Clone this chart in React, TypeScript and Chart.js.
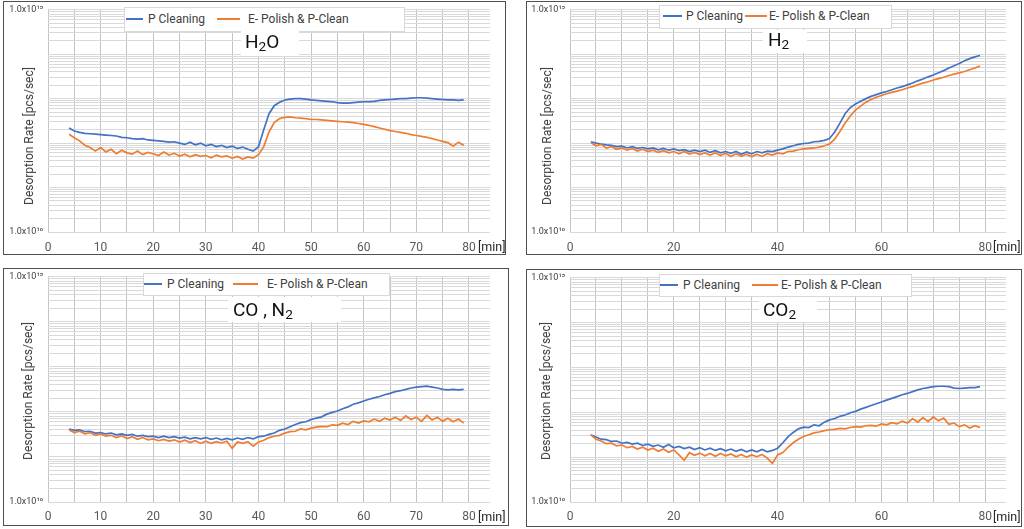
import React, { useEffect, useRef } from 'react';
import { Chart, registerables } from 'chart.js';

Chart.register(...registerables);

const FONT = 'Roboto, "DejaVu Sans", Arial, sans-serif';
const BLUE = '#4472C4';
const ORANGE = '#ED7D31';

// ---------- data ----------
const seriesNames = ['P Cleaning', 'E- Polish & P-Clean'];

// elapsed time [min]
const minutes = [
  4, 5, 6, 7, 8, 9, 10, 11, 12, 13,
  14, 15, 16, 17, 18, 19, 20, 21, 22, 23,
  24, 25, 26, 27, 28, 29, 30, 31, 32, 33,
  34, 35, 36, 37, 38, 39, 40, 41, 42, 43,
  44, 45, 46, 47, 48, 49, 50, 51, 52, 53,
  54, 55, 56, 57, 58, 59, 60, 61, 62, 63,
  64, 65, 66, 67, 68, 69, 70, 71, 72, 73,
  74, 75, 76, 77, 78, 79,
];

// desorption rate, stored as log10 [pcs/sec]
const h2oPCleaningLog = [
  12.34, 12.27, 12.24, 12.22, 12.21, 12.20, 12.19, 12.18, 12.17, 12.16,
  12.13, 12.12, 12.10, 12.09, 12.10, 12.07, 12.06, 12.05, 12.04, 12.02,
  12.03, 12.00, 11.97, 12.02, 11.96, 12.00, 11.94, 11.97, 11.92, 11.95,
  11.90, 11.93, 11.88, 11.91, 11.86, 11.82, 11.92, 12.30, 12.66, 12.84,
  12.92, 12.97, 12.99, 13.00, 13.00, 12.99, 12.97, 12.96, 12.95, 12.94,
  12.93, 12.91, 12.90, 12.90, 12.91, 12.92, 12.93, 12.93, 12.94, 12.96,
  12.97, 12.98, 12.99, 13.00, 13.00, 13.01, 13.02, 13.02, 13.01, 13.00,
  12.99, 12.98, 12.97, 12.97, 12.96, 12.97,
];
const h2oEPolishLog = [
  12.20, 12.12, 12.05, 11.95, 11.90, 11.82, 11.90, 11.80, 11.86, 11.76,
  11.84, 11.78, 11.75, 11.82, 11.74, 11.79, 11.76, 11.72, 11.80, 11.73,
  11.77, 11.71, 11.75, 11.69, 11.74, 11.70, 11.72, 11.67, 11.73, 11.69,
  11.71, 11.66, 11.70, 11.64, 11.69, 11.66, 11.74, 11.92, 12.25, 12.46,
  12.55, 12.58, 12.59, 12.57, 12.56, 12.55, 12.53, 12.53, 12.52, 12.51,
  12.50, 12.49, 12.48, 12.47, 12.46, 12.44, 12.42, 12.40, 12.37, 12.34,
  12.31, 12.28, 12.26, 12.24, 12.22, 12.19, 12.17, 12.15, 12.13, 12.10,
  12.07, 12.04, 12.01, 11.93, 12.02, 11.95,
];
const h2PCleaningLog = [
  12.03, 12.00, 11.98, 11.96, 11.95, 11.92, 11.93, 11.89, 11.92, 11.88,
  11.90, 11.87, 11.89, 11.85, 11.88, 11.84, 11.87, 11.83, 11.85, 11.81,
  11.84, 11.81, 11.84, 11.79, 11.83, 11.78, 11.81, 11.77, 11.81, 11.75,
  11.80, 11.76, 11.81, 11.78, 11.82, 11.81, 11.84, 11.87, 11.91, 11.94,
  11.97, 11.99, 12.00, 12.03, 12.04, 12.06, 12.10, 12.25, 12.45, 12.66,
  12.80, 12.88, 12.94, 13.00, 13.05, 13.09, 13.13, 13.16, 13.20, 13.24,
  13.27, 13.31, 13.35, 13.40, 13.44, 13.49, 13.53, 13.58, 13.63, 13.69,
  13.74, 13.79, 13.85, 13.90, 13.94, 13.97,
];
const h2EPolishLog = [
  12.01, 11.94, 11.97, 11.89, 11.92, 11.86, 11.89, 11.84, 11.88, 11.82,
  11.86, 11.81, 11.84, 11.79, 11.83, 11.78, 11.81, 11.76, 11.81, 11.75,
  11.79, 11.74, 11.78, 11.73, 11.78, 11.72, 11.77, 11.70, 11.76, 11.70,
  11.75, 11.69, 11.75, 11.70, 11.76, 11.73, 11.78, 11.76, 11.81, 11.82,
  11.85, 11.87, 11.88, 11.89, 11.91, 11.94, 11.98, 12.09, 12.26, 12.45,
  12.61, 12.74, 12.83, 12.92, 12.98, 13.03, 13.07, 13.11, 13.14, 13.17,
  13.20, 13.24, 13.27, 13.31, 13.35, 13.38, 13.42, 13.45, 13.48, 13.52,
  13.55, 13.58, 13.61, 13.65, 13.69, 13.73,
];
const coN2PCleaningLog = [
  11.62, 11.59, 11.60, 11.56, 11.57, 11.53, 11.54, 11.51, 11.53, 11.49,
  11.51, 11.48, 11.50, 11.46, 11.48, 11.45, 11.46, 11.43, 11.46, 11.43,
  11.45, 11.42, 11.44, 11.40, 11.43, 11.40, 11.43, 11.39, 11.42, 11.38,
  11.41, 11.38, 11.42, 11.39, 11.43, 11.40, 11.45, 11.46, 11.50, 11.53,
  11.59, 11.62, 11.67, 11.72, 11.76, 11.78, 11.83, 11.86, 11.89, 11.95,
  11.99, 12.02, 12.07, 12.11, 12.17, 12.20, 12.24, 12.28, 12.31, 12.34,
  12.38, 12.41, 12.45, 12.47, 12.50, 12.53, 12.55, 12.56, 12.57, 12.55,
  12.53, 12.50, 12.49, 12.50, 12.49, 12.50,
];
const coN2EPolishLog = [
  11.60, 11.54, 11.57, 11.51, 11.54, 11.48, 11.51, 11.46, 11.48, 11.43,
  11.47, 11.41, 11.45, 11.39, 11.43, 11.38, 11.40, 11.36, 11.39, 11.35,
  11.38, 11.33, 11.37, 11.32, 11.36, 11.30, 11.35, 11.30, 11.34, 11.31,
  11.35, 11.19, 11.33, 11.30, 11.34, 11.24, 11.33, 11.37, 11.43, 11.46,
  11.48, 11.53, 11.56, 11.57, 11.62, 11.60, 11.64, 11.66, 11.68, 11.67,
  11.71, 11.70, 11.75, 11.72, 11.79, 11.75, 11.80, 11.78, 11.84, 11.79,
  11.86, 11.82, 11.88, 11.81, 11.91, 11.83, 11.88, 11.79, 11.92, 11.82,
  11.88, 11.79, 11.86, 11.78, 11.84, 11.75,
];
const co2PCleaningLog = [
  11.50, 11.45, 11.40, 11.39, 11.35, 11.36, 11.31, 11.33, 11.29, 11.31,
  11.26, 11.29, 11.24, 11.27, 11.22, 11.28, 11.21, 11.24, 11.19, 11.22,
  11.17, 11.21, 11.16, 11.20, 11.15, 11.19, 11.14, 11.18, 11.13, 11.17,
  11.12, 11.16, 11.12, 11.17, 11.12, 11.15, 11.20, 11.32, 11.45, 11.55,
  11.63, 11.67, 11.66, 11.72, 11.70, 11.78, 11.83, 11.86, 11.91, 11.94,
  11.99, 12.02, 12.07, 12.11, 12.15, 12.19, 12.23, 12.27, 12.31, 12.35,
  12.39, 12.42, 12.46, 12.50, 12.53, 12.55, 12.57, 12.58, 12.58, 12.57,
  12.54, 12.53, 12.54, 12.55, 12.55, 12.57,
];
const co2EPolishLog = [
  11.50, 11.40, 11.36, 11.30, 11.31, 11.25, 11.27, 11.21, 11.24, 11.18,
  11.22, 11.16, 11.20, 11.13, 11.18, 11.11, 11.16, 11.05, 10.93, 11.10,
  11.04, 11.09, 11.03, 11.08, 11.02, 11.08, 11.03, 11.07, 11.01, 11.06,
  11.00, 11.05, 11.01, 11.06, 10.98, 10.86, 11.05, 11.10, 11.22, 11.32,
  11.40, 11.46, 11.50, 11.54, 11.56, 11.59, 11.61, 11.62, 11.64, 11.63,
  11.66, 11.68, 11.67, 11.70, 11.71, 11.69, 11.74, 11.72, 11.77, 11.74,
  11.80, 11.76, 11.86, 11.78, 11.88, 11.79, 11.90, 11.81, 11.87, 11.73,
  11.76, 11.68, 11.72, 11.65, 11.70, 11.66,
];

// ---------- axes ----------
const xMin = 0;
const xMax = 84;
const xGridMinutes = [0, 5, 10, 15, 20, 25, 30, 35, 40, 45, 50, 55, 60, 65, 70, 75, 80];
const yDecadeExponents = [10, 11, 12, 13, 14];
const yMinorSteps = [1, 2, 3, 4, 5, 6, 7, 8, 9];
const yMinExp = 10;
const yMaxExp = 15;
const yTickLabels: Record<number, string> = { 10: '1.0x10\u00B9\u2070', 15: '1.0x10\u00B9\u2075' };
const yAxisTitle = 'Desorption Rate [pcs/sec]';
const xUnit = '[min]';

const yGridValues = yDecadeExponents
  .flatMap((e) => yMinorSteps.map((s) => s * Math.pow(10, e)))
  .concat([Math.pow(10, yMaxExp)]);

type Part = { t: string; sub?: boolean };
type PanelSpec = {
  left: number; top: number; width: number; height: number;
  yAxisW: number; padTop: number; padRight: number; xAxisH: number; xLabelPad: number; xLabelStep: number;
  series: [number[], number[]];
  yTitle: { cx: number; cy: number };
  unit: { x: number; cy: number };
  legend: { l: number; t: number; w: number; h: number; s1: [number, number]; t1: number; s2: [number, number]; t2: number; y: number };
  title: { l: number; t: number; w: number; h: number; pad: number; dy: number; parts: Part[] };
};

const panels: PanelSpec[] = [
  {
    left: 3, top: 1, width: 503, height: 254,
    yAxisW: 44, padTop: 3, padRight: 15, xAxisH: 22, xLabelPad: 9, xLabelStep: 10,
    series: [h2oPCleaningLog, h2oEPolishLog],
    yTitle: { cx: 28.5, cy: 136 },
    unit: { x: 478, cy: 247 },
    legend: { l: 124, t: 7, w: 281, h: 25, s1: [126, 143], t1: 148, s2: [217, 240], t2: 248, y: 19 },
    title: { l: 241, t: 31, w: 58, h: 25, pad: 4, dy: -2, parts: [{ t: 'H' }, { t: '2', sub: true }, { t: 'O' }] },
  },
  {
    left: 526, top: 1, width: 496, height: 254,
    yAxisW: 43, padTop: 3, padRight: 15, xAxisH: 22, xLabelPad: 9, xLabelStep: 20,
    series: [h2PCleaningLog, h2EPolishLog],
    yTitle: { cx: 547, cy: 135.5 },
    unit: { x: 993, cy: 247 },
    legend: { l: 659, t: 5, w: 233, h: 24, s1: [663, 682], t1: 686, s2: [745, 767], t2: 769, y: 16 },
    title: { l: 763, t: 30, w: 44, h: 23, pad: 5, dy: -2, parts: [{ t: 'H' }, { t: '2', sub: true }] },
  },
  {
    left: 3, top: 268, width: 506, height: 258,
    yAxisW: 44, padTop: 4, padRight: 18, xAxisH: 23, xLabelPad: 8, xLabelStep: 10,
    series: [coN2PCleaningLog, coN2EPolishLog],
    yTitle: { cx: 28.3, cy: 391 },
    unit: { x: 478, cy: 517 },
    legend: { l: 143, t: 273, w: 247, h: 23, s1: [144, 162], t1: 167, s2: [233, 258], t2: 267, y: 284 },
    title: { l: 228, t: 297, w: 113, h: 25, pad: 5, dy: 0, parts: [{ t: 'CO , N' }, { t: '2', sub: true }] },
  },
  {
    left: 526, top: 269, width: 496, height: 258,
    yAxisW: 43, padTop: 3, padRight: 15, xAxisH: 24, xLabelPad: 8, xLabelStep: 20,
    series: [co2PCleaningLog, co2EPolishLog],
    yTitle: { cx: 546, cy: 391 },
    unit: { x: 993, cy: 517 },
    legend: { l: 659, t: 274, w: 253, h: 23, s1: [660, 678], t1: 683, s2: [752, 778], t2: 781, y: 285 },
    title: { l: 759, t: 297, w: 58, h: 25, pad: 4, dy: 0, parts: [{ t: 'CO' }, { t: '2', sub: true }] },
  },
];

function PanelChart({ p }: { p: PanelSpec }) {
  const ref = useRef<HTMLCanvasElement | null>(null);
  const cw = p.width - 2;
  const ch = p.height - 2;
  useEffect(() => {
    if (!ref.current) return;
    const colors = [BLUE, ORANGE];
    const chart = new Chart(ref.current, {
      type: 'line',
      data: {
        datasets: p.series.map((logs, k) => ({
          label: seriesNames[k],
          data: minutes.map((m, i) => ({ x: m, y: Math.pow(10, logs[i]) })),
          borderColor: colors[k],
          backgroundColor: colors[k],
          borderWidth: 1.7,
          pointRadius: 0,
          tension: 0,
          fill: false,
          order: k === 0 ? 2 : 1,
        })),
      },
      options: {
        responsive: false,
        animation: false,
        events: [],
        layout: { padding: { top: p.padTop, right: p.padRight, left: 0, bottom: 0 } },
        plugins: { legend: { display: false }, tooltip: { enabled: false }, title: { display: false } },
        scales: {
          x: {
            type: 'linear',
            min: xMin,
            max: xMax,
            afterBuildTicks: (s: any) => { s.ticks = xGridMinutes.map((v) => ({ value: v })); },
            afterFit: (s: any) => { s.height = p.xAxisH; },
            grid: { color: '#c3c3c3', lineWidth: 1, drawTicks: false },
            border: { display: false },
            ticks: {
              autoSkip: false,
              maxRotation: 0,
              padding: p.xLabelPad,
              color: '#595959',
              font: { family: FONT, size: 12 },
              callback: (v: any) => (Number(v) % p.xLabelStep === 0 ? String(v) : ''),
            },
          },
          y: {
            type: 'logarithmic',
            min: Math.pow(10, yMinExp),
            max: Math.pow(10, yMaxExp),
            afterBuildTicks: (s: any) => { s.ticks = yGridValues.map((v) => ({ value: v })); },
            afterFit: (s: any) => { s.width = p.yAxisW; },
            grid: { color: '#d9d9d9', lineWidth: 1, drawTicks: false },
            border: { display: false },
            ticks: {
              autoSkip: false,
              padding: 5,
              color: '#404040',
              font: { family: FONT, size: 9, lineHeight: 0.6 },
              callback: (v: any) => {
                const e = Math.log10(Number(v));
                const r = Math.round(e);
                return Math.abs(e - r) < 1e-9 && yTickLabels[r] ? yTickLabels[r] : '';
              },
            },
          },
        },
      } as any,
    });
    return () => chart.destroy();
  }, []);
  return (
    <canvas
      ref={ref}
      width={cw}
      height={ch}
      style={{ position: 'absolute', left: p.left + 1, top: p.top + 1, width: cw, height: ch }}
    />
  );
}

function Overlays({ p }: { p: PanelSpec }) {
  const lg = p.legend;
  const tt = p.title;
  const textBase: React.CSSProperties = { position: 'absolute', fontFamily: FONT, whiteSpace: 'nowrap', lineHeight: 1 };
  return (
    <>
      <div
        style={{ ...textBase, left: p.yTitle.cx, top: p.yTitle.cy, fontSize: 12, color: '#404040', transform: 'translate(-50%, -50%) rotate(-90deg)' }}
      >
        {yAxisTitle}
      </div>
      <div style={{ ...textBase, left: p.unit.x, top: p.unit.cy, fontSize: 12.5, color: '#262626', transform: 'translateY(-50%)' }}>{xUnit}</div>
      <div style={{ position: 'absolute', left: lg.l, top: lg.t, width: lg.w, height: lg.h, boxSizing: 'border-box', background: '#fff', border: '1px solid #d9d9d9' }} />
      <div style={{ position: 'absolute', left: lg.s1[0], top: lg.y - 1, width: lg.s1[1] - lg.s1[0], height: 2, background: BLUE }} />
      <div style={{ ...textBase, left: lg.t1, top: lg.y, fontSize: 12, color: '#404040', transform: 'translateY(-50%)' }}>{seriesNames[0]}</div>
      <div style={{ position: 'absolute', left: lg.s2[0], top: lg.y - 1, width: lg.s2[1] - lg.s2[0], height: 2, background: ORANGE }} />
      <div style={{ ...textBase, left: lg.t2, top: lg.y, fontSize: 12, color: '#404040', transform: 'translateY(-50%)' }}>{seriesNames[1]}</div>
      <div
        style={{ position: 'absolute', left: tt.l, top: tt.t, width: tt.w, height: tt.h, background: '#fff', fontFamily: FONT, fontSize: 19, color: '#111', lineHeight: `${tt.h}px`, whiteSpace: 'nowrap', boxSizing: 'border-box', paddingLeft: tt.pad }}
      >
        <span style={{ position: 'relative', top: tt.dy }}>
          {tt.parts.map((pt, i) =>
            pt.sub ? (
              <span key={i} style={{ fontSize: '0.72em', verticalAlign: '-0.22em', lineHeight: 1 }}>{pt.t}</span>
            ) : (
              <span key={i}>{pt.t}</span>
            )
          )}
        </span>
      </div>
    </>
  );
}

export default function App() {
  return (
    <div style={{ position: 'absolute', left: 0, top: 0, width: 1024, height: 529, background: '#fff', overflow: 'hidden' }}>
      {panels.map((p, i) => (
        <React.Fragment key={i}>
          <div style={{ position: 'absolute', left: p.left, top: p.top, width: p.width, height: p.height, boxSizing: 'border-box', border: '1px solid #505050' }} />
          <PanelChart p={p} />
          <Overlays p={p} />
        </React.Fragment>
      ))}
    </div>
  );
}
